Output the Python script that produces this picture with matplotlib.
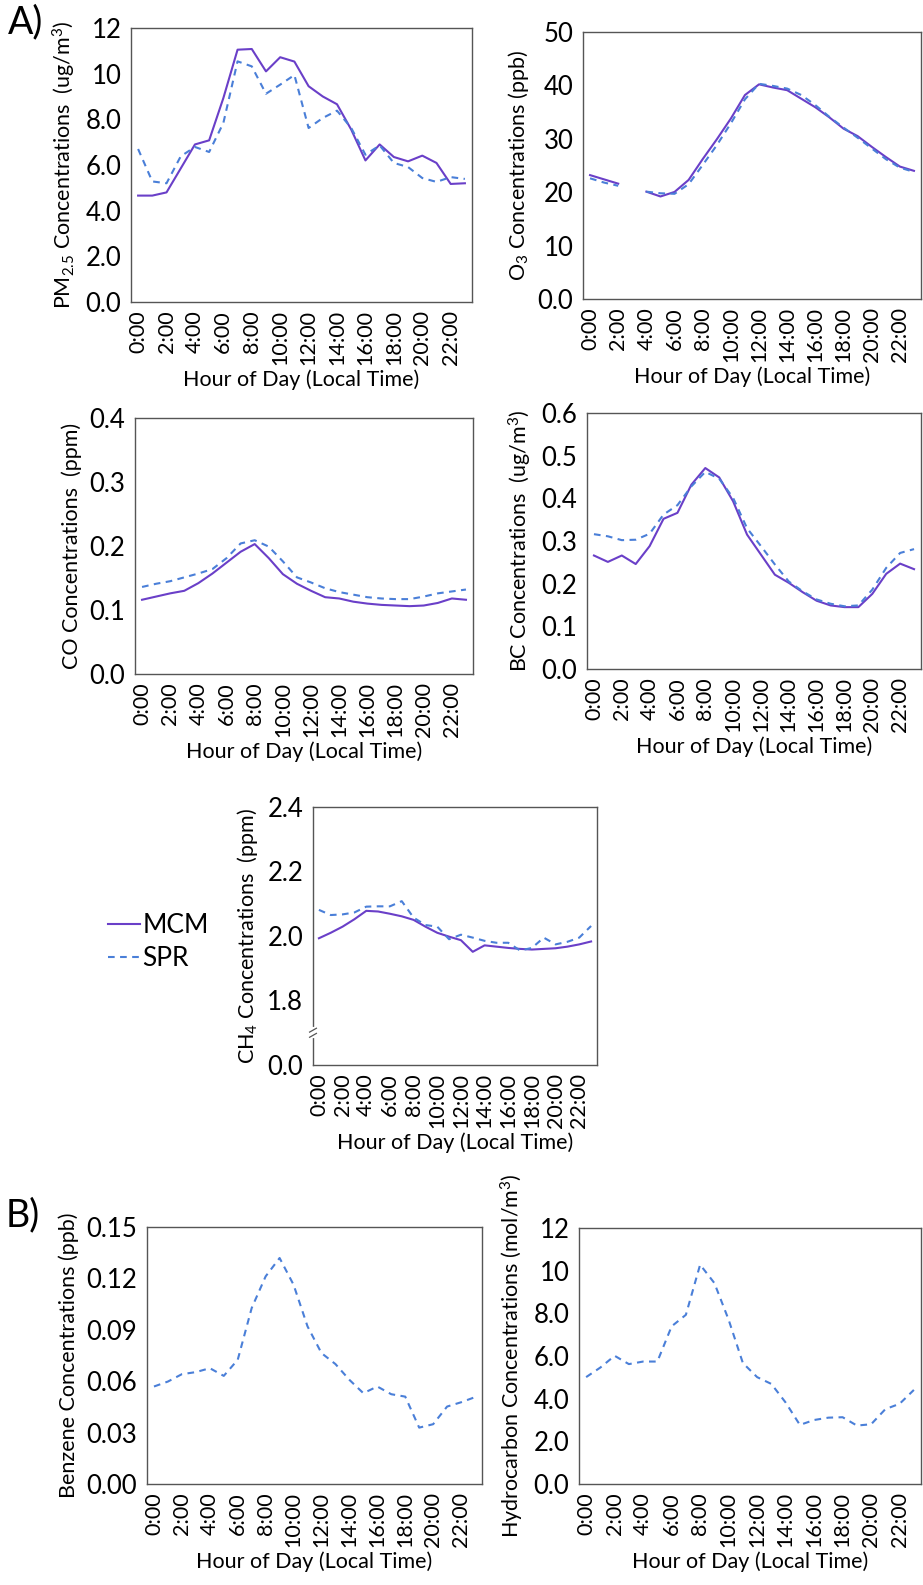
import matplotlib
matplotlib.use('Agg')
import matplotlib.pyplot as plt
import matplotlib.transforms as mtransforms
import numpy as np

plt.rcParams['font.family'] = ['Lato', 'DejaVu Sans']
plt.rcParams['mathtext.fontset'] = 'custom'
plt.rcParams['mathtext.rm'] = 'Lato'
plt.rcParams['mathtext.it'] = 'Lato'

hours = np.arange(24)
hour_labels = ['%d:00' % h for h in range(0, 24, 2)]

# panel A data
pm25_mcm = [4.66, 4.66, 4.8, 5.85, 6.9, 7.08, 8.93, 11.05, 11.08, 10.1, 10.72, 10.53,
            9.45, 9.0, 8.66, 7.55, 6.2, 6.9, 6.35, 6.16, 6.41, 6.09, 5.17, 5.2]
pm25_spr = [6.7, 5.28, 5.2, 6.38, 6.79, 6.57, 7.84, 10.54, 10.32, 9.12, 9.52, 9.94,
            7.62, 8.06, 8.38, 7.62, 6.45, 6.86, 6.09, 5.91, 5.43, 5.26, 5.47, 5.39]

o3_mcm = [23.2, 22.4, 21.6, np.nan, 20.1, 19.2, 20.05, 22.3, 26.2, 29.9, 33.8, 38.2,
          40.2, 39.6, 39.1, 37.5, 35.9, 34.0, 31.9, 30.5, 28.5, 26.6, 24.8, 24.0]
o3_spr = [22.6, 21.8, 21.2, np.nan, 20.1, 19.8, 19.7, 21.5, 25.1, 28.8, 32.9, 37.4,
          40.3, 39.9, 39.4, 38.2, 36.3, 34.1, 32.1, 30.2, 28.2, 26.2, 24.6, 23.8]

co_mcm = [0.116, 0.121, 0.126, 0.130, 0.142, 0.157, 0.174, 0.191, 0.203, 0.181, 0.156, 0.141,
          0.130, 0.120, 0.118, 0.113, 0.110, 0.108, 0.107, 0.106, 0.107, 0.111, 0.118, 0.116]
co_spr = [0.136, 0.141, 0.145, 0.151, 0.157, 0.164, 0.181, 0.204, 0.209, 0.199, 0.176, 0.151,
          0.143, 0.134, 0.128, 0.124, 0.120, 0.118, 0.117, 0.117, 0.121, 0.126, 0.129, 0.132]

bc_mcm = [0.266, 0.251, 0.266, 0.246, 0.288, 0.352, 0.366, 0.432, 0.471, 0.449, 0.393, 0.315,
          0.268, 0.221, 0.202, 0.180, 0.160, 0.149, 0.145, 0.145, 0.176, 0.223, 0.247, 0.234]
bc_spr = [0.316, 0.311, 0.302, 0.303, 0.317, 0.362, 0.384, 0.428, 0.462, 0.446, 0.401, 0.330,
          0.288, 0.245, 0.205, 0.182, 0.163, 0.153, 0.147, 0.149, 0.186, 0.237, 0.272, 0.281]

ch4_mcm = [1.993, 2.010, 2.029, 2.052, 2.078, 2.076, 2.069, 2.061, 2.050, 2.029, 2.010, 1.998,
           1.987, 1.951, 1.971, 1.967, 1.963, 1.960, 1.958, 1.960, 1.962, 1.967, 1.974, 1.983]
ch4_spr = [2.081, 2.065, 2.067, 2.073, 2.091, 2.092, 2.092, 2.108, 2.057, 2.034, 2.029, 1.990,
           2.004, 1.995, 1.985, 1.979, 1.979, 1.955, 1.963, 1.995, 1.974, 1.982, 1.995, 2.031]

# panel B data (SPR only)
benzene_spr = [0.0569, 0.0598, 0.0641, 0.0653, 0.0676, 0.0631, 0.0725, 0.1027, 0.1212, 0.1319,
               0.1163, 0.0920, 0.0764, 0.0700, 0.0608, 0.0530, 0.0569, 0.0524, 0.0510, 0.0329,
               0.0349, 0.0452, 0.0477, 0.0507]
hc_spr = [5.01, 5.46, 6.01, 5.62, 5.74, 5.74, 7.39, 7.93, 10.28, 9.42, 7.70, 5.67,
          5.01, 4.69, 3.82, 2.77, 3.0, 3.11, 3.13, 2.74, 2.80, 3.51, 3.76, 4.41]

MCM_COLOR = '#6a3fc8'
SPR_COLOR = '#4a7fd8'
W, H = 923, 1585

fig = plt.figure(figsize=(W / 100, H / 100), dpi=100)


def make_ax(left, top, right, bottom):
    return fig.add_axes([left / W, 1 - bottom / H, (right - left) / W, (bottom - top) / H])


def style(ax, ylabel, yticks, ylabels, ylim):
    ax.set_xlim(-0.5, 23.5)
    ax.set_ylim(*ylim)
    ax.set_xticks(range(0, 24, 2))
    ax.set_xticklabels(hour_labels, rotation=90, fontsize=15.5)
    ax.set_yticks(yticks)
    ax.set_yticklabels(ylabels, fontsize=18.5)
    ax.tick_params(length=0, pad=6)
    ax.tick_params(axis='y', pad=7)
    for s in ax.spines.values():
        s.set_color('#555555')
        s.set_linewidth(1.0)
    ax.set_xlabel('Hour of Day (Local Time)', fontsize=15.5, labelpad=3)
    ax.set_ylabel(ylabel, fontsize=15.5, labelpad=5)


def draw(ax, mcm, spr):
    if mcm is not None:
        ax.plot(hours, mcm, color=MCM_COLOR, lw=1.5, label='MCM')
    ax.plot(hours, spr, color=SPR_COLOR, lw=1.5, ls=(0, (3.2, 2.6)), label='SPR')


# PM2.5
ax1 = make_ax(131, 28, 472, 302)
draw(ax1, pm25_mcm, pm25_spr)
style(ax1, 'PM$_{2.5}$ Concentrations  (ug/m$^3$)', np.arange(0, 13, 2),
      ['0.0', '2.0', '4.0', '6.0', '8.0', '10', '12'], (0, 12))

# O3
ax2 = make_ax(583, 32, 921, 299)
draw(ax2, o3_mcm, o3_spr)
style(ax2, 'O$_3$ Concentrations (ppb)', np.arange(0, 51, 10),
      ['0.0', '10', '20', '30', '40', '50'], (0, 50))

# CO
ax3 = make_ax(135, 418, 473, 674)
draw(ax3, co_mcm, co_spr)
style(ax3, 'CO Concentrations  (ppm)', [0, 0.1, 0.2, 0.3, 0.4],
      ['0.0', '0.1', '0.2', '0.3', '0.4'], (0, 0.4))

# BC
ax4 = make_ax(587, 413, 921, 669)
draw(ax4, bc_mcm, bc_spr)
style(ax4, 'BC Concentrations  (ug/m$^3$)', [0, 0.1, 0.2, 0.3, 0.4, 0.5, 0.6],
      ['0.0', '0.1', '0.2', '0.3', '0.4', '0.5', '0.6'], (0, 0.6))

# CH4 with broken axis (bottom tick stands for 0.0)
ax5 = make_ax(313, 807, 597, 1065)
draw(ax5, ch4_mcm, ch4_spr)
style(ax5, 'CH$_4$ Concentrations  (ppm)', [1.6, 1.8, 2.0, 2.2, 2.4],
      ['0.0', '1.8', '2.0', '2.2', '2.4'], (1.6, 2.4))
trans = mtransforms.blended_transform_factory(ax5.transAxes, ax5.transData)
ax5.plot([0, 0], [1.69, 1.712], color='white', lw=3, transform=trans, clip_on=False, zorder=5)
for yb in (1.692, 1.708):
    ax5.plot([-0.012, 0.012], [yb - 0.006, yb + 0.006], color='#555555', lw=0.9,
             transform=trans, clip_on=False, zorder=6)

# Benzene
ax6 = make_ax(147, 1227, 482, 1484)
draw(ax6, None, benzene_spr)
style(ax6, 'Benzene Concentrations (ppb)', [0, 0.03, 0.06, 0.09, 0.12, 0.15],
      ['0.00', '0.03', '0.06', '0.09', '0.12', '0.15'], (0, 0.15))

# Hydrocarbon
ax7 = make_ax(579, 1228, 921, 1484)
draw(ax7, None, hc_spr)
style(ax7, 'Hydrocarbon Concentrations (mol/m$^3$)', np.arange(0, 13, 2),
      ['0.0', '2.0', '4.0', '6.0', '8.0', '10', '12'], (0, 12))

# legend
handles, labels = ax5.get_legend_handles_labels()
fig.legend(handles, labels, loc='center left', bbox_to_anchor=(108 / W, 1 - 942 / H),
           frameon=False, fontsize=19, handlelength=1.2, handletextpad=0.1,
           labelspacing=0.3, borderaxespad=0, borderpad=0)

fig.text(8 / W, 1 - 22 / H, 'A)', fontsize=27, va='center', ha='left')
fig.text(6 / W, 1 - 1215 / H, 'B)', fontsize=27, va='center', ha='left')

fig.savefig('out.png', dpi=100)
